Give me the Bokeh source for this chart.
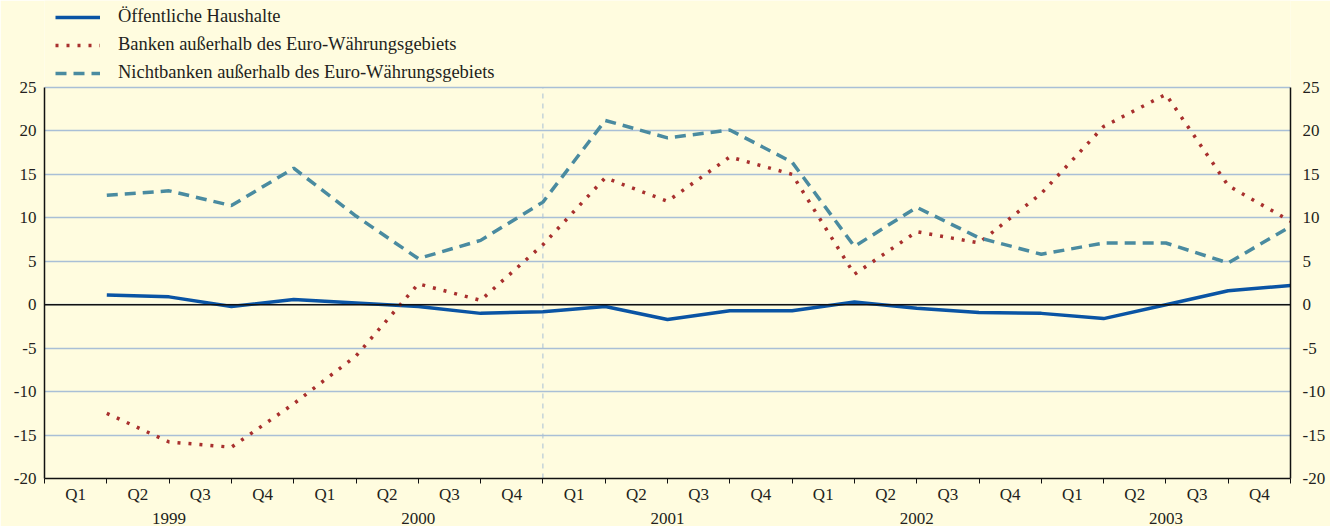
from bokeh.plotting import figure
from bokeh.models import (LinearAxis, FixedTicker, Span, Legend, LegendItem, Range1d)
from bokeh.embed import file_html
from bokeh.resources import INLINE

# ---- data ----
quarters = ["Q1", "Q2", "Q3", "Q4"]
years = ["1999", "2000", "2001", "2002", "2003"]
y_ticks = [-20, -15, -10, -5, 0, 5, 10, 15, 20, 25]
oeffentliche_haushalte = [1.1, 0.9, -0.2, 0.6, 0.2, -0.2, -1.0, -0.8, -0.2, -1.7,
                          -0.7, -0.7, 0.3, -0.4, -0.9, -1.0, -1.6, 0.0, 1.6, 2.2]
banken_ausserhalb = [-12.5, -15.8, -16.4, -11.4, -5.9, 2.4, 0.5, 6.9, 14.6, 11.9,
                     17.0, 15.0, 3.5, 8.4, 7.1, 12.8, 20.5, 24.2, 13.7, 9.6]
nichtbanken_ausserhalb = [12.6, 13.1, 11.4, 15.7, 10.2, 5.3, 7.4, 11.8, 21.2, 19.2,
                          20.1, 16.4, 6.7, 11.2, 7.7, 5.8, 7.1, 7.1, 4.8, 9.0]
labels = ["Öffentliche Haushalte",
          "Banken außerhalb des Euro-Währungsgebiets",
          "Nichtbanken außerhalb des Euro-Währungsgebiets"]

n_q = len(years) * len(quarters)
xs = list(range(1, n_q + 1))
y_lo, y_hi = y_ticks[0], y_ticks[-1]

BG = "#fffcdf"
GRID = "#a9bfd6"
TXT = "#231f20"
FONT = "Liberation Serif"
FS = "17px"

# extra room above the top tick holds the legend inside the frame
p = figure(width=1330, height=526, output_backend="svg", toolbar_location=None,
           x_range=Range1d(0, n_q), y_range=Range1d(y_lo, 35),
           x_axis_location=None, y_axis_location=None,
           min_border_left=44, min_border_right=40, min_border_top=0,
           min_border_bottom=45)
p.background_fill_color = BG
p.border_fill_color = BG
p.outline_line_color = None
p.xgrid.visible = False

p.ygrid.ticker = FixedTicker(ticks=y_ticks)
p.ygrid.grid_line_color = GRID
p.ygrid.grid_line_width = 1.5

def style_y(ax):
    ax.ticker = FixedTicker(ticks=y_ticks)
    ax.major_label_overrides = {v: str(v) for v in y_ticks}
    ax.bounds = (y_lo, y_hi)
    ax.major_tick_out = 0
    ax.major_tick_in = 0
    ax.minor_tick_out = 0
    ax.axis_line_color = "#111111"
    ax.axis_line_width = 1.5
    ax.major_label_text_font = FONT
    ax.major_label_text_font_size = FS
    ax.major_label_text_color = TXT
    ax.major_label_standoff = 8

ly = LinearAxis()
style_y(ly)
p.add_layout(ly, "left")
ry = LinearAxis()
style_y(ry)
ry.major_label_standoff = 12
p.add_layout(ry, "right")

# quarter axis
centers = [i + 0.5 for i in range(n_q)]
qax = LinearAxis(ticker=FixedTicker(ticks=centers, minor_ticks=list(range(n_q + 1))))
qax.major_label_overrides = {c: quarters[i % 4] for i, c in enumerate(centers)}
qax.major_tick_out = 0
qax.major_tick_in = 0
qax.minor_tick_out = 5
qax.minor_tick_in = 0
qax.minor_tick_line_color = "#111111"
qax.axis_line_color = "#111111"
qax.axis_line_width = 1.5
qax.major_label_text_font = FONT
qax.major_label_text_font_size = FS
qax.major_label_text_color = TXT
qax.major_label_standoff = 1
p.add_layout(qax, "below")

# year axis
ymid = [4 * i + 2 for i in range(len(years))]
yax = LinearAxis(ticker=FixedTicker(ticks=ymid, minor_ticks=[]))
yax.major_label_overrides = {m: years[i] for i, m in enumerate(ymid)}
yax.axis_line_color = None
yax.major_tick_line_color = None
yax.minor_tick_line_color = None
yax.major_label_text_font = FONT
yax.major_label_text_font_size = FS
yax.major_label_text_color = TXT
yax.major_label_standoff = 0
p.add_layout(yax, "below")

p.add_layout(Span(location=0, dimension="width", line_color="#111111", line_width=1.5))
b2001 = 4 * years.index("2001")
p.segment(x0=[b2001], y0=[y_lo], x1=[b2001], y1=[y_hi], line_color=GRID,
          line_width=1, line_dash="5 5")

r1 = p.line(xs, oeffentliche_haushalte, line_color="#0a54a4", line_width=3.5)
r2 = p.line(xs, banken_ausserhalb, line_color="#a8302e", line_width=3.5,
            line_dash="3 8")
r3 = p.line(xs, nichtbanken_ausserhalb, line_color="#4a8ba0", line_width=3.5,
            line_dash="11 7")

legend = Legend(items=[LegendItem(label=labels[0], renderers=[r1]),
                       LegendItem(label=labels[1], renderers=[r2]),
                       LegendItem(label=labels[2], renderers=[r3])],
                location=(11, 395), orientation="vertical",
                glyph_width=45, glyph_height=20, label_height=20, spacing=7,
                padding=0, margin=0, label_standoff=18,
                label_text_font=FONT, label_text_font_size="18.5px",
                label_text_color=TXT,
                background_fill_alpha=0, border_line_alpha=0)
p.add_layout(legend, "center")

html = file_html(p, INLINE)
html = html.replace("<body>", '<body style="background-color:%s">' % BG, 1)
open("out.html", "w").write(html)
